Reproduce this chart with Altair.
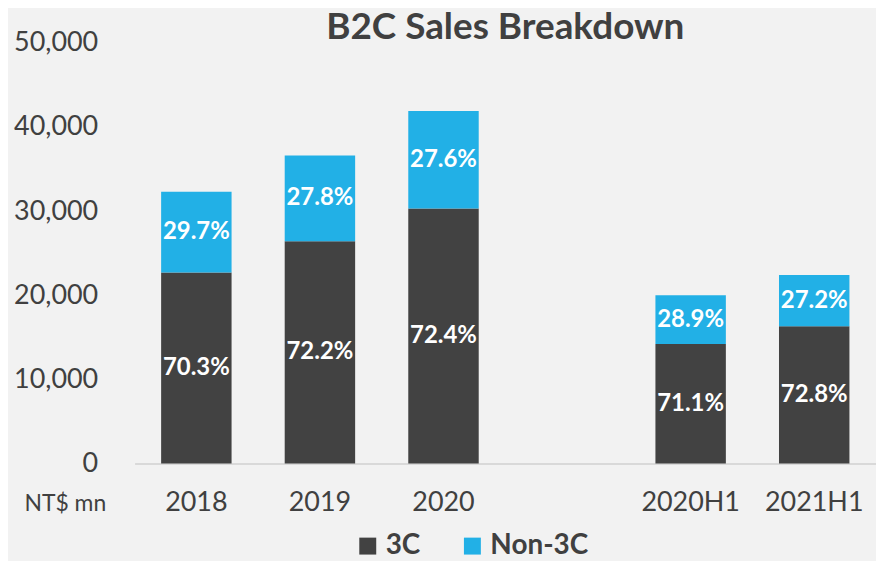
import altair as alt
import pandas as pd

periods = ["2018", "2019", "2020", "2020H1", "2021H1"]
x_domain = ["2018", "2019", "2020", " ", "2020H1", "2021H1"]
segments = ["3C", "Non-3C"]
sales_3c = [22700, 26400, 30300, 14200, 16300]
sales_non3c = [9600, 10200, 11600, 5800, 6100]
pct_3c = [70.3, 72.2, 72.4, 71.1, 72.8]
pct_non3c = [29.7, 27.8, 27.6, 28.9, 27.2]
colors = ["#424242", "#22B0E6"]
y_ticks = [0, 10000, 20000, 30000, 40000, 50000]

rows = []
for i, p in enumerate(periods):
    a, b = sales_3c[i], sales_non3c[i]
    rows.append({"period": p, "segment": "3C", "y0": 0, "y1": a, "mid": a / 2,
                 "label": f"{pct_3c[i]:.1f}%"})
    rows.append({"period": p, "segment": "Non-3C", "y0": a, "y1": a + b, "mid": a + b / 2,
                 "label": f"{pct_non3c[i]:.1f}%"})
df = pd.DataFrame(rows)

FONT = "Lato"
TXT = "#404040"

x_enc = alt.X("period:N", sort=x_domain,
              scale=alt.Scale(domain=x_domain, paddingInner=0.43, paddingOuter=0.215),
              axis=alt.Axis(title=None, labelAngle=0, ticks=False, tickSize=0,
                            domainColor="#d9d9d9", domainWidth=2, labelFontSize=27,
                            labelColor=TXT, labelFont=FONT, labelPadding=26))

y_enc = alt.Y("y0:Q", scale=alt.Scale(domain=[0, 50000], nice=False),
              axis=alt.Axis(values=y_ticks, format=",.0f", grid=False, domain=False,
                            ticks=False, tickSize=0, labelPadding=37, labelFontSize=27,
                            labelColor=TXT, labelFont=FONT,
                            title="NT$ mn", titleAngle=0, titleX=-70, titleY=462,
                            titleAlign="center", titleBaseline="middle",
                            titleFontSize=23, titleFontWeight="normal",
                            titleColor=TXT, titleFont=FONT))

bars = alt.Chart(df).mark_bar().encode(
    x=x_enc,
    y=y_enc,
    y2="y1:Q",
    color=alt.Color("segment:N", scale=alt.Scale(domain=segments, range=colors),
                    legend=alt.Legend(title=None, orient="none", direction="horizontal",
                                      legendX=220, legendY=491, symbolType="square",
                                      symbolSize=289, symbolStrokeWidth=0,
                                      labelFontSize=28, labelFontWeight="bold",
                                      labelColor=TXT, labelFont=FONT,
                                      columnPadding=38, labelOffset=4)),
)

labels = alt.Chart(df).mark_text(color="white", fontWeight="bold", fontSize=24,
                                 font=FONT, baseline="middle").encode(
    x=alt.X("period:N", sort=x_domain),
    y=alt.Y("mid:Q"),
    text="label:N",
)

chart = alt.layer(bars, labels).properties(
    width=744, height=422,
    padding={"left": 5, "top": 0, "right": 0, "bottom": 0},
    background="#F2F2F2",
    title=alt.TitleParams("B2C Sales Breakdown", fontSize=37, fontWeight="bold",
                          font=FONT, color=TXT, anchor="middle", frame="group",
                          offset=-18),
).configure_view(stroke=None)

chart.save("out.html", embed_options={"renderer": "svg", "actions": False})
